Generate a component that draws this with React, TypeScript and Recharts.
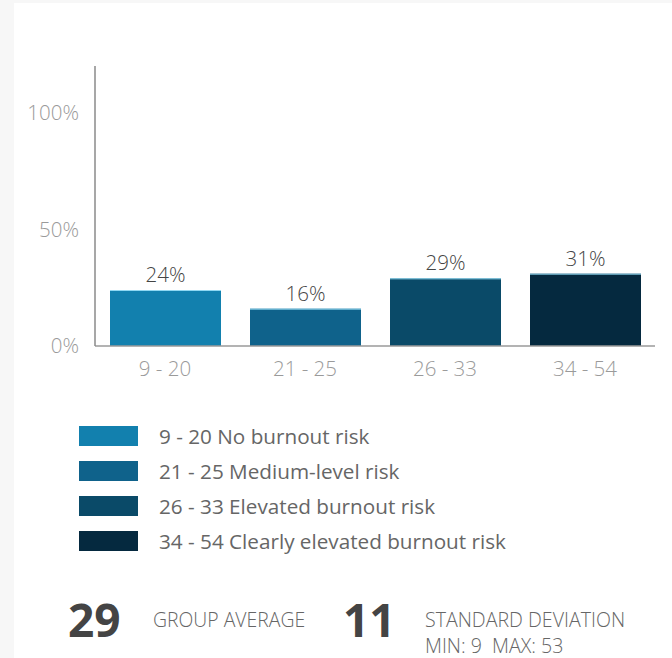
import React from "react";
import { Bar, BarChart, Cell, LabelList, XAxis, YAxis } from "recharts";

const categories = ["9 - 20", "21 - 25", "26 - 33", "34 - 54"];
const shares = [24, 16, 29, 31];
const colors = ["#1280ae", "#0f628b", "#0a4a68", "#05293f"];
const legendLabels = [
  "9 - 20 No burnout risk",
  "21 - 25 Medium-level risk",
  "26 - 33 Elevated burnout risk",
  "34 - 54 Clearly elevated burnout risk",
];
const yTicks = [0, 50, 100];
const groupAverage = 29;
const stdDeviation = 11;
const minScore = 9;
const maxScore = 53;

const data = categories.map((name, i) => ({ name, value: shares[i] }));

const font = "'Open Sans', 'Noto Sans', sans-serif";

const BarShape = (props: any) => {
  const { x, y, width, height, fill } = props;
  return (
    <g>
      <rect x={x} y={y} width={width} height={height} fill={fill} />
      <line x1={x} x2={x + width} y1={y + 0.5} y2={y + 0.5} stroke="#8fd8f2" strokeWidth={1} />
    </g>
  );
};

export default function App() {
  return (
    <div style={{ position: "fixed", left: 0, top: 0, width: 672, height: 658, background: "#f7f7f7", fontFamily: font, overflow: "hidden" }}>
      <div style={{ position: "absolute", left: 14, top: 3, right: 0, bottom: 0, background: "#fff" }} />
      <div style={{ position: "absolute", left: 0, top: 0 }}>
        <BarChart width={672} height={390} data={data} margin={{ top: 66, right: 17, bottom: 0, left: 0 }}>
          <XAxis
            dataKey="name"
            axisLine={{ stroke: "#9a9a9a", strokeWidth: 1.5 }}
            tickLine={false}
            tickSize={0}
            tickMargin={15}
            height={44}
            tick={{ fill: "#9a9a9a", fontSize: 20.5, fontFamily: font, fontWeight: 300 }}
          />
          <YAxis
            width={95}
            domain={[0, 120]}
            ticks={yTicks}
            axisLine={{ stroke: "#8a8a8a", strokeWidth: 1.5 }}
            tickLine={false}
            tickSize={0}
            tickMargin={16}
            tickFormatter={(v: number) => `${v}%`}
            tick={{ fill: "#9a9a9a", fontSize: 20.5, fontFamily: font, fontWeight: 300 }}
          />
          <Bar dataKey="value" barSize={111} isAnimationActive={false} shape={BarShape}>
            {data.map((d, i) => (
              <Cell key={d.name} fill={colors[i]} />
            ))}
            <LabelList
              dataKey="value"
              position="top"
              offset={8}
              formatter={(v: any) => `${v}%`}
              style={{ fill: "#444", fontSize: 20.5, fontFamily: font, fontWeight: 300 }}
            />
          </Bar>
        </BarChart>
      </div>
      <div style={{ position: "absolute", left: 79, top: 425 }}>
        {legendLabels.map((label, i) => (
          <div key={label} style={{ display: "flex", alignItems: "center", height: 35 }}>
            <div style={{ width: 59, height: 20, background: colors[i], marginTop: -14 }} />
            <span style={{ marginLeft: 21, marginTop: -14, fontSize: 20.7, fontWeight: 400, color: "#666", whiteSpace: "nowrap" }}>{label}</span>
          </div>
        ))}
      </div>
      <div style={{ position: "absolute", left: 68, top: 590, fontSize: 46, fontWeight: 700, color: "#444", lineHeight: "58px" }}>
        {groupAverage}
      </div>
      <div style={{ position: "absolute", left: 153, top: 606, fontSize: 19.4, fontWeight: 300, color: "#666", lineHeight: "27px" }}>GROUP AVERAGE</div>
      <div style={{ position: "absolute", left: 343, top: 590, fontSize: 46, fontWeight: 700, color: "#444", lineHeight: "58px" }}>
        {stdDeviation}
      </div>
      <div style={{ position: "absolute", left: 425, top: 606, fontSize: 19.6, fontWeight: 300, color: "#666", lineHeight: "27px", whiteSpace: "nowrap" }}>
        STANDARD DEVIATION
      </div>
      <div style={{ position: "absolute", left: 425, top: 636, fontSize: 19.6, fontWeight: 300, color: "#666", lineHeight: "20px", whiteSpace: "nowrap" }}>
        MIN: {minScore}&nbsp;&nbsp;MAX: {maxScore}
      </div>
    </div>
  );
}
